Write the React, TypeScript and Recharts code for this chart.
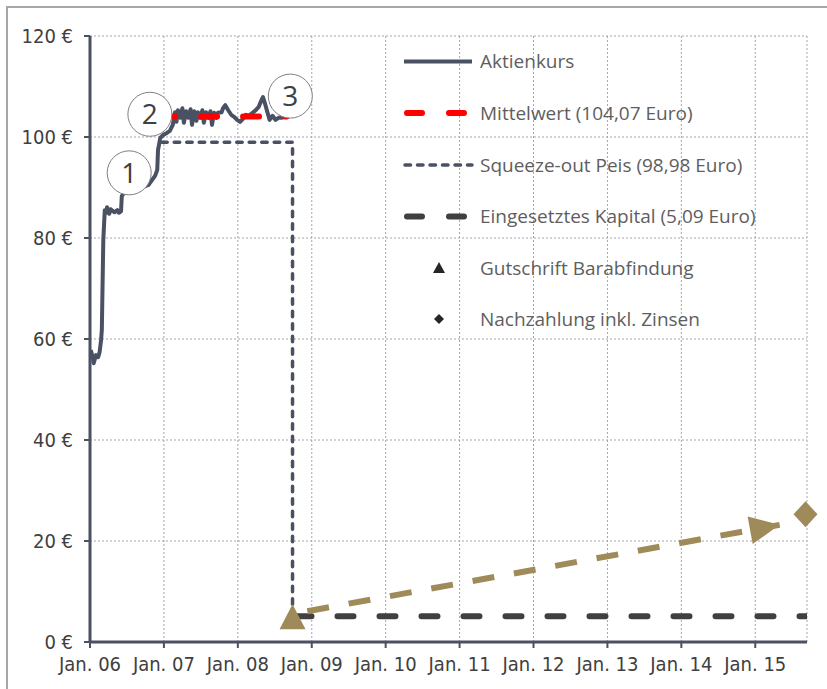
import { CartesianGrid, ComposedChart, Line, ReferenceDot, XAxis, YAxis } from 'recharts'

// x = Jahr als Dezimalzahl (2006.0 = Jan. 06), y = Euro
const yearTicks = [2006, 2007, 2008, 2009, 2010, 2011, 2012, 2013, 2014, 2015]
const yearLabels = ['Jan. 06', 'Jan. 07', 'Jan. 08', 'Jan. 09', 'Jan. 10', 'Jan. 11', 'Jan. 12', 'Jan. 13', 'Jan. 14', 'Jan. 15']
const euroTicks = [0, 20, 40, 60, 80, 100, 120]

const aktienkurs = [
  { x: 2006.01, y: 57.8 }, { x: 2006.04, y: 56.2 }, { x: 2006.05, y: 55.2 }, { x: 2006.08, y: 56.8 },
  { x: 2006.11, y: 56.4 }, { x: 2006.13, y: 57.4 }, { x: 2006.15, y: 59.8 }, { x: 2006.16, y: 61.8 },
  { x: 2006.18, y: 79.6 }, { x: 2006.19, y: 82.6 }, { x: 2006.2, y: 85.5 }, { x: 2006.22, y: 85.0 },
  { x: 2006.23, y: 86.1 }, { x: 2006.26, y: 84.8 }, { x: 2006.28, y: 85.7 }, { x: 2006.33, y: 85.1 },
  { x: 2006.37, y: 85.5 }, { x: 2006.39, y: 85.0 }, { x: 2006.42, y: 85.3 }, { x: 2006.43, y: 88.3 },
  { x: 2006.46, y: 88.9 }, { x: 2006.61, y: 89.5 }, { x: 2006.79, y: 90.5 }, { x: 2006.88, y: 92.3 },
  { x: 2006.91, y: 93.5 }, { x: 2006.92, y: 97.4 }, { x: 2006.95, y: 99.8 }, { x: 2006.99, y: 100.4 },
  { x: 2007.04, y: 100.8 }, { x: 2007.08, y: 101.2 }, { x: 2007.12, y: 102.4 }, { x: 2007.15, y: 104.9 },
  { x: 2007.17, y: 103.0 }, { x: 2007.19, y: 105.3 }, { x: 2007.22, y: 103.8 }, { x: 2007.25, y: 105.7 },
  { x: 2007.27, y: 102.8 }, { x: 2007.3, y: 105.1 }, { x: 2007.33, y: 103.8 }, { x: 2007.36, y: 105.5 },
  { x: 2007.38, y: 102.4 }, { x: 2007.41, y: 105.1 }, { x: 2007.44, y: 103.2 }, { x: 2007.46, y: 104.9 },
  { x: 2007.49, y: 103.8 }, { x: 2007.52, y: 105.3 }, { x: 2007.54, y: 102.8 }, { x: 2007.57, y: 104.9 },
  { x: 2007.6, y: 103.8 }, { x: 2007.63, y: 105.1 }, { x: 2007.65, y: 102.4 }, { x: 2007.68, y: 104.8 },
  { x: 2007.71, y: 103.8 }, { x: 2007.73, y: 104.8 }, { x: 2007.78, y: 104.9 }, { x: 2007.8, y: 105.7 },
  { x: 2007.83, y: 106.3 }, { x: 2007.87, y: 105.3 }, { x: 2007.91, y: 104.4 }, { x: 2007.95, y: 104.0 },
  { x: 2007.99, y: 103.4 }, { x: 2008.03, y: 103.0 }, { x: 2008.07, y: 103.6 }, { x: 2008.11, y: 104.4 },
  { x: 2008.15, y: 104.2 }, { x: 2008.2, y: 104.8 }, { x: 2008.24, y: 105.3 }, { x: 2008.28, y: 105.9 },
  { x: 2008.32, y: 107.3 }, { x: 2008.34, y: 107.9 }, { x: 2008.37, y: 106.5 }, { x: 2008.4, y: 104.9 },
  { x: 2008.43, y: 103.4 }, { x: 2008.47, y: 104.2 }, { x: 2008.51, y: 103.4 }, { x: 2008.55, y: 103.8 },
  { x: 2008.59, y: 103.8 }, { x: 2008.64, y: 104.0 },
]
const mittelwert = [{ x: 2007.11, y: 104.07 }, { x: 2008.66, y: 104.07 }]
const squeezeOut = [{ x: 2006.97, y: 98.98 }, { x: 2008.74, y: 98.98 }, { x: 2008.74, y: 5.09 }]
const kapital = [{ x: 2008.78, y: 5.09 }, { x: 2015.7, y: 5.09 }]
const zinsLinie = [{ x: 2008.94, y: 6.1 }, { x: 2015.33, y: 23.2 }]
const gutschrift = { x: 2008.74, y: 5.09 }
const nachzahlung = { x: 2015.68, y: 25.3 }
const marken = [
  { n: '1', x: 2006.53, y: 92.9 },
  { n: '2', x: 2006.81, y: 104.5 },
  { n: '3', x: 2008.71, y: 108.1 },
]
const legendLabels = [
  'Aktienkurs',
  'Mittelwert (104,07 Euro)',
  'Squeeze-out Peis (98,98 Euro)',
  'Eingesetztes Kapital (5,09 Euro)',
  'Gutschrift Barabfindung',
  'Nachzahlung inkl. Zinsen',
]

const SLATE = '#4a5163'
const RED = '#ff0000'
const DARK = '#404040'
const KHAKI = '#9f8b5a'
const GRID = '#a4a4ae'
const TICK_FONT = '"DejaVu Sans", sans-serif'
const TEXT_FONT = '"Open Sans", "Noto Sans", sans-serif'
const tickStyle = {
  fill: DARK,
  fontSize: 20,
  fontFamily: TICK_FONT,
  fontStretch: 'condensed',
  style: { fontStretch: 'condensed' },
}

function LegendBlock() {
  const rows = [61.5, 113, 165, 216.5, 268, 319]
  return (
    <g>
      <line x1={404} x2={472} y1={rows[0]} y2={rows[0]} stroke={SLATE} strokeWidth={4} />
      <line x1={407} x2={465} y1={rows[1]} y2={rows[1]} stroke={RED} strokeWidth={6} strokeDasharray="15 27" strokeLinecap="round" />
      <line x1={405} x2={472} y1={rows[2]} y2={rows[2]} stroke={SLATE} strokeWidth={3.5} strokeDasharray="5.5 7" strokeLinecap="round" />
      <line x1={407} x2={465} y1={rows[3]} y2={rows[3]} stroke={DARK} strokeWidth={6} strokeDasharray="15 27" strokeLinecap="round" />
      <path d={`M439,${rows[4] - 6} L445,${rows[4] + 5} L433,${rows[4] + 5} Z`} fill="#262626" />
      <path d={`M439,${rows[5] - 5} L444,${rows[5]} L439,${rows[5] + 5} L434,${rows[5]} Z`} fill="#262626" />
      {legendLabels.map((t, i) => (
        <text key={t} x={480} y={rows[i]} dy="0.36em" fontSize={19} fontFamily={TEXT_FONT} fill="#5e5e5e">
          {t}
        </text>
      ))}
    </g>
  )
}

const triangleShape = (p: any) => (
  <path d={`M${p.cx},${p.cy - 12} L${p.cx + 13},${p.cy + 13} L${p.cx - 13},${p.cy + 13} Z`} fill={KHAKI} />
)
const diamondShape = (p: any) => (
  <path d={`M${p.cx},${p.cy - 13} L${p.cx + 12},${p.cy} L${p.cx},${p.cy + 13} L${p.cx - 12},${p.cy} Z`} fill={KHAKI} />
)
const arrowDot = (p: any) => {
  if (p.index !== zinsLinie.length - 1) return <g key={`a${p.index}`} />
  return (
    <path
      key={`a${p.index}`}
      transform={`translate(${p.cx},${p.cy}) rotate(-10.4)`}
      d="M0,0 L-30,-14 L-30,14 Z"
      fill={KHAKI}
    />
  )
}

export default function App() {
  return (
    <div style={{ position: 'absolute', left: 0, top: 0, width: 827, height: 689, background: '#fff' }}>
      <div
        style={{
          position: 'absolute',
          left: 6,
          top: 6,
          width: 821,
          height: 683,
          borderTop: '2px solid #a6a6a6',
          borderLeft: '2px solid #a6a6a6',
          boxSizing: 'border-box',
        }}
      />
      <div style={{ position: 'absolute', left: 0, top: 0 }}>
        <ComposedChart width={827} height={689} margin={{ top: 36, right: 20, bottom: 7, left: 8 }}>
          <CartesianGrid stroke={GRID} strokeDasharray="2 2" />
          <XAxis
            dataKey="x"
            type="number"
            domain={[2006, 2015.7]}
            ticks={yearTicks}
            interval={0}
            allowDataOverflow
            height={40}
            tickSize={6}
            tickMargin={9}
            tickFormatter={(v: number) => yearLabels[yearTicks.indexOf(v)] ?? ''}
            tick={tickStyle}
            axisLine={{ stroke: SLATE, strokeWidth: 3 }}
            tickLine={{ stroke: SLATE, strokeWidth: 2 }}
          />
          <YAxis
            type="number"
            domain={[0, 120]}
            ticks={euroTicks}
            interval={0}
            width={82}
            tickSize={6}
            tickMargin={11}
            tickFormatter={(v: number) => `${v} €`}
            tick={tickStyle}
            axisLine={{ stroke: SLATE, strokeWidth: 3 }}
            tickLine={{ stroke: SLATE, strokeWidth: 2 }}
          />
          <LegendBlock />
          <Line data={kapital} dataKey="y" type="linear" stroke={DARK} strokeWidth={6} strokeDasharray="16 26" strokeLinecap="round" dot={false} isAnimationActive={false} />
          <Line data={zinsLinie} dataKey="y" type="linear" stroke={KHAKI} strokeWidth={6} strokeDasharray="22 20" dot={arrowDot} isAnimationActive={false} />
          <Line data={squeezeOut} dataKey="y" type="linear" stroke={SLATE} strokeWidth={3.5} strokeDasharray="5.5 7" strokeLinecap="round" dot={false} isAnimationActive={false} />
          <Line data={aktienkurs} dataKey="y" type="linear" stroke={SLATE} strokeWidth={4} strokeLinejoin="round" dot={false} isAnimationActive={false} />
          <Line data={mittelwert} dataKey="y" type="linear" stroke={RED} strokeWidth={6} strokeDasharray="16 26" strokeDashoffset={13} strokeLinecap="round" dot={false} isAnimationActive={false} />
          <ReferenceDot x={gutschrift.x} y={gutschrift.y} r={13} shape={triangleShape} ifOverflow="visible" />
          <ReferenceDot x={nachzahlung.x} y={nachzahlung.y} r={13} shape={diamondShape} ifOverflow="visible" />
          {marken.map((m) => (
            <ReferenceDot
              key={m.n}
              x={m.x}
              y={m.y}
              r={22}
              fill="#fff"
              stroke="#7f7f7f"
              strokeWidth={1}
              ifOverflow="visible"
              label={{ value: m.n, position: 'center', fontSize: 28, fill: DARK, fontFamily: TEXT_FONT }}
            />
          ))}
        </ComposedChart>
      </div>
    </div>
  )
}
